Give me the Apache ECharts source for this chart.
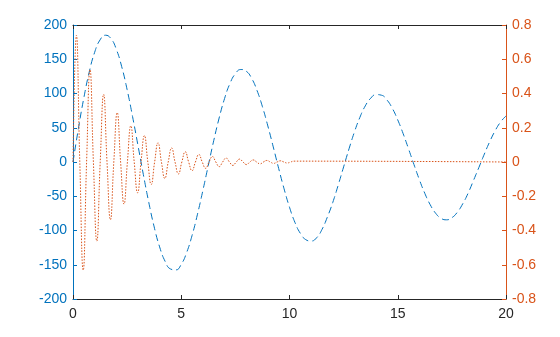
<!DOCTYPE html>
<html><head><meta charset="utf-8">
<script src="https://cdn.jsdelivr.net/npm/echarts@6/dist/echarts.min.js"></script>
<style>html,body{margin:0;padding:0;background:#fff}#c{width:560px;height:337px}</style>
</head><body><div id="c"></div>
<script>
var blueX = [0,0.25,0.5,0.75,1,1.25,1.5,1.75,2,2.25,2.5,2.75,3,3.25,3.5,3.75,4,4.25,4.5,4.75,5,5.25,5.5,5.75,6,6.25,6.5,6.75,7,7.25,7.5,7.75,8,8.25,8.5,8.75,9,9.25,9.5,9.75,10,10.25,10.5,10.75,11,11.25,11.5,11.75,12,12.25,12.5,12.75,13,13.25,13.5,13.75,14,14.25,14.5,14.75,15,15.25,15.5,15.75,16,16.25,16.5,16.75,17,17.25,17.5,17.75,18,18.25,18.5,18.75,19,19.25,19.5,19.75,20];
var blueY = [0,48.9,93.5,131.3,160.1,178.3,185.1,180.3,164.6,139.1,105.6,66.5,24.3,-18.4,-58.9,-94.8,-123.9,-144.7,-156.1,-157.6,-149.4,-132.1,-107.2,-76.2,-41.4,-4.9,31.1,64.2,92.6,114.6,128.9,135.0,132.6,122.2,104.4,80.7,52.6,22.0,-9.4,-39.2,-66.0,-88.1,-104.1,-113.3,-115.4,-110.7,-98.5,-80.3,-58.9,-33.7,-7.1,19.3,43.9,65.1,81.9,93.1,98.4,97.5,90.6,78.3,61.4,41.3,19.0,-3.8,-25.9,-45.8,-62.4,-74.8,-82.2,-84.4,-81.3,-73.4,-61.1,-45.5,-26.8,-7.8,11.6,29.8,45.7,58.4,67.2];
var orangeX = [0,0.157,0.314,0.471,0.628,0.785,0.942,1.100,1.257,1.414,1.571,1.728,1.885,2.042,2.199,2.356,2.513,2.670,2.827,2.985,3.142,3.299,3.456,3.613,3.770,3.927,4.084,4.241,4.398,4.555,4.712,4.869,5.027,5.184,5.341,5.498,5.655,5.812,5.969,6.126,6.283,6.440,6.597,6.754,6.912,7.069,7.226,7.383,7.540,7.697,7.854,8.011,8.168,8.325,8.482,8.639,8.796,8.954,9.111,9.268,9.425,9.582,9.739,9.896,10.053,10.210,20];
var orangeY = [0,0.740,0,-0.632,0,0.540,0,-0.462,0,0.395,0,-0.337,0,0.288,0,-0.246,0,0.211,0,-0.180,0,0.154,0,-0.131,0,0.112,0,-0.096,0,0.082,0,-0.070,0,0.060,0,-0.051,0,0.044,0,-0.037,0,0.032,0,-0.027,0,0.023,0,-0.020,0,0.017,0,-0.015,0,0.012,0,-0.011,0,0.009,0,-0.008,0,0.007,0,-0.006,0,0.005,0];
var xTicks = [0,5,10,15,20];
var leftTicks = [-200,-150,-100,-50,0,50,100,150,200];
var rightTicks = [-0.8,-0.6,-0.4,-0.2,0,0.2,0.4,0.6,0.8];

var BLUE = '#0072BD', ORANGE = '#D95319', DARK = '#262626';
var font = '"Liberation Sans", Helvetica, Arial, sans-serif';
var chart = echarts.init(document.getElementById('c'), null, {renderer:'canvas'});
function pairs(xs, ys){ return xs.map(function(x,i){return [x, ys[i]];}); }
chart.setOption({
  animation:false,
  grid:{left:73, right:54, top:25, bottom:38, containLabel:false},
  xAxis:[
    {type:'value', min:xTicks[0], max:xTicks[xTicks.length-1], interval:5, position:'bottom',
     axisLine:{onZero:false, lineStyle:{color:DARK, width:1}}, axisTick:{inside:true, length:4, lineStyle:{color:DARK}},
     axisLabel:{color:DARK, fontSize:14, fontFamily:font, margin:8}, splitLine:{show:false}},
    {type:'value', min:0, max:20, interval:5, position:'top',
     axisLine:{onZero:false, lineStyle:{color:DARK, width:1}}, axisTick:{inside:true, length:4, lineStyle:{color:DARK}},
     axisLabel:{show:false}, splitLine:{show:false}}
  ],
  yAxis:[
    {type:'value', min:leftTicks[0], max:leftTicks[leftTicks.length-1], interval:50, position:'left',
     axisLine:{show:true, onZero:false, lineStyle:{color:BLUE, width:1}}, axisTick:{show:true, inside:true, length:4, lineStyle:{color:BLUE}},
     axisLabel:{color:BLUE, fontSize:14, fontFamily:font, margin:6}, splitLine:{show:false}},
    {type:'value', min:rightTicks[0], max:rightTicks[rightTicks.length-1], interval:0.2, position:'right',
     axisLine:{show:true, onZero:false, lineStyle:{color:ORANGE, width:1}}, axisTick:{show:true, inside:true, length:4, lineStyle:{color:ORANGE}},
     axisLabel:{color:ORANGE, fontSize:14, fontFamily:font, margin:6,
       formatter:function(v){ return Math.abs(v)<1e-9 ? '0' : (Math.round(v*10)/10).toString(); }},
     splitLine:{show:false}}
  ],
  series:[
    {type:'line', xAxisIndex:0, yAxisIndex:0, data:pairs(blueX, blueY), showSymbol:false, smooth:true,
     lineStyle:{color:BLUE, width:1, type:[7,4]}},
    {type:'line', xAxisIndex:0, yAxisIndex:1, data:pairs(orangeX, orangeY), showSymbol:false, smooth:true,
     lineStyle:{color:ORANGE, width:1, type:[1.5,1.5]}}
  ]
});
</script></body></html>
